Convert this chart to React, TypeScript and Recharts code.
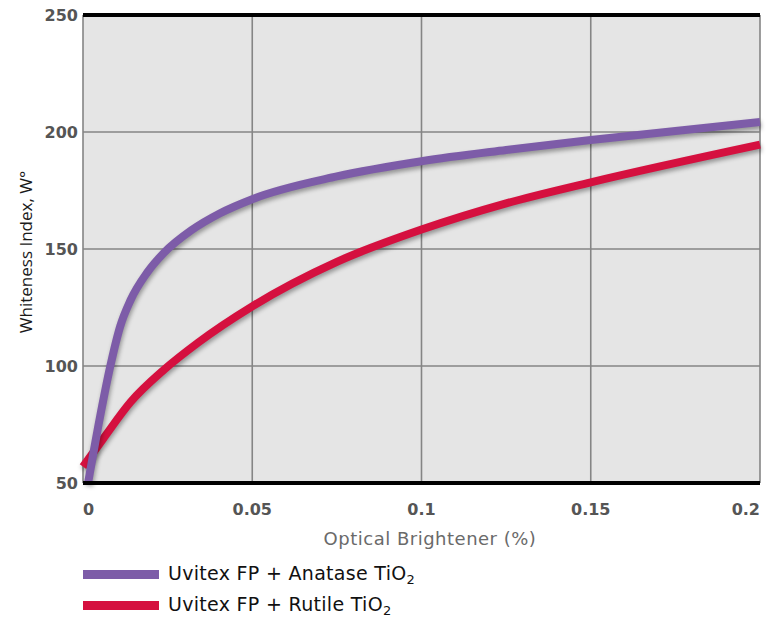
import React from "react";
import { LineChart, Line, XAxis, YAxis, CartesianGrid, ReferenceLine } from "recharts";

const anataseX = [0.0015, 0.005, 0.008, 0.011, 0.014, 0.019, 0.024, 0.032, 0.0405, 0.05, 0.075, 0.1, 0.125, 0.15, 0.2];
const anataseY = [50, 78, 99.5, 117, 128, 140, 148.5, 158, 165.3, 171.3, 181, 187.5, 192.3, 196.6, 204.3];

const rutileX = [0, 0.006, 0.014, 0.024, 0.034, 0.05, 0.075, 0.1, 0.125, 0.15, 0.2];
const rutileY = [57, 69, 84.5, 98.5, 110, 125.5, 144.5, 158.3, 169.5, 178.5, 194.6];

const xTicks = [0, 0.05, 0.1, 0.15, 0.2];
const yTicks = [50, 100, 150, 200, 250];

const seriesNames = ["Uvitex FP + Anatase TiO", "Uvitex FP + Rutile TiO"];
const seriesColors = ["#7d5ca8", "#d5103f"];

const xLabel = "Optical Brightener (%)";
const yLabel = "Whiteness Index, W°";

const anataseData = anataseX.map((x, i) => ({ x, v: anataseY[i] }));
const rutileData = rutileX.map((x, i) => ({ x, v: rutileY[i] }));

const tickFont = "DejaVu Sans, sans-serif";

const XTick = (props: any) => {
  const { x, y, payload, index } = props;
  const last = xTicks.length - 1;
  const anchor = index === 0 ? "start" : index === last ? "end" : "middle";
  return (
    <text
      x={x}
      y={y + 26}
      textAnchor={anchor}
      dominantBaseline="central"
      fill="#555"
      fontSize={16}
      fontWeight={700}
      fontFamily={tickFont}
    >
      {String(payload.value)}
    </text>
  );
};

const YLabelContent = () => {
  const cx = 25;
  const cy = 252;
  return (
    <text
      x={cx}
      y={cy}
      transform={`rotate(-90, ${cx}, ${cy})`}
      textAnchor="middle"
      dominantBaseline="central"
      fill="#1a1a1a"
      fontSize={17}
      fontFamily="Open Sans, sans-serif"
    >
      {yLabel}
    </text>
  );
};

const XLabelContent = () => {
  return (
    <text
      x={430}
      y={538}
      textAnchor="middle"
      dominantBaseline="central"
      fill="#6a6a6a"
      fontSize={18}
      letterSpacing={0.5}
      fontFamily="DejaVu Sans, sans-serif"
    >
      {xLabel}
    </text>
  );
};

export default function App() {
  return (
    <div
      style={{
        position: "absolute",
        left: 0,
        top: 0,
        width: 771,
        height: 619,
        background: "#ffffff",
        overflow: "hidden",
      }}
    >
      <style>{`.recharts-line-curve { filter: drop-shadow(1px 3px 2px rgba(0,0,0,0.35)); }`}</style>
      <LineChart
        width={771}
        height={619}
        margin={{ top: 15, right: 11, left: 8, bottom: 106 }}
      >
        <CartesianGrid
          fill="#e5e5e5"
          stroke="#858585"
          strokeWidth={1.6}
          verticalValues={xTicks}
          horizontalValues={yTicks}
        />
        <XAxis
          dataKey="x"
          type="number"
          domain={[0, 0.2]}
          ticks={xTicks}
          height={30}
          tickLine={false}
          tickSize={0}
          tickMargin={0}
          axisLine={{ stroke: "#000", strokeWidth: 4 }}
          tick={<XTick />}
          interval={0}
          label={<XLabelContent />}
        />
        <YAxis
          type="number"
          domain={[50, 250]}
          ticks={yTicks}
          width={75}
          tickLine={false}
          tickSize={0}
          tickMargin={5}
          axisLine={false}
          interval={0}
          tick={{ fill: "#555", fontSize: 16, fontWeight: 700, fontFamily: tickFont }}
          label={<YLabelContent />}
        />
        <ReferenceLine y={250} stroke="#000" strokeWidth={4} />
        <Line
          data={rutileData}
          dataKey="v"
          type="monotone"
          stroke={seriesColors[1]}
          strokeWidth={8}
          dot={false}
          activeDot={false}
          isAnimationActive={false}
        />
        <Line
          data={anataseData}
          dataKey="v"
          type="monotone"
          stroke={seriesColors[0]}
          strokeWidth={8}
          dot={false}
          activeDot={false}
          isAnimationActive={false}
        />
      </LineChart>
      {seriesNames.map((name, i) => (
        <div
          key={name}
          style={{
            position: "absolute",
            left: 83,
            top: 560 + i * 31,
            height: 28,
            display: "flex",
            alignItems: "center",
            fontFamily: "DejaVu Sans, sans-serif",
            fontSize: 19,
            letterSpacing: 0.3,
            lineHeight: "22px",
            color: "#111",
            whiteSpace: "nowrap",
          }}
        >
          <span
            style={{
              display: "inline-block",
              width: 76,
              height: 9,
              background: seriesColors[i],
              marginRight: 9,
            }}
          />
          <span style={{ lineHeight: "22px" }}>
            {name}
            <span style={{ fontSize: 13, position: "relative", top: 4 }}>2</span>
          </span>
        </div>
      ))}
    </div>
  );
}
